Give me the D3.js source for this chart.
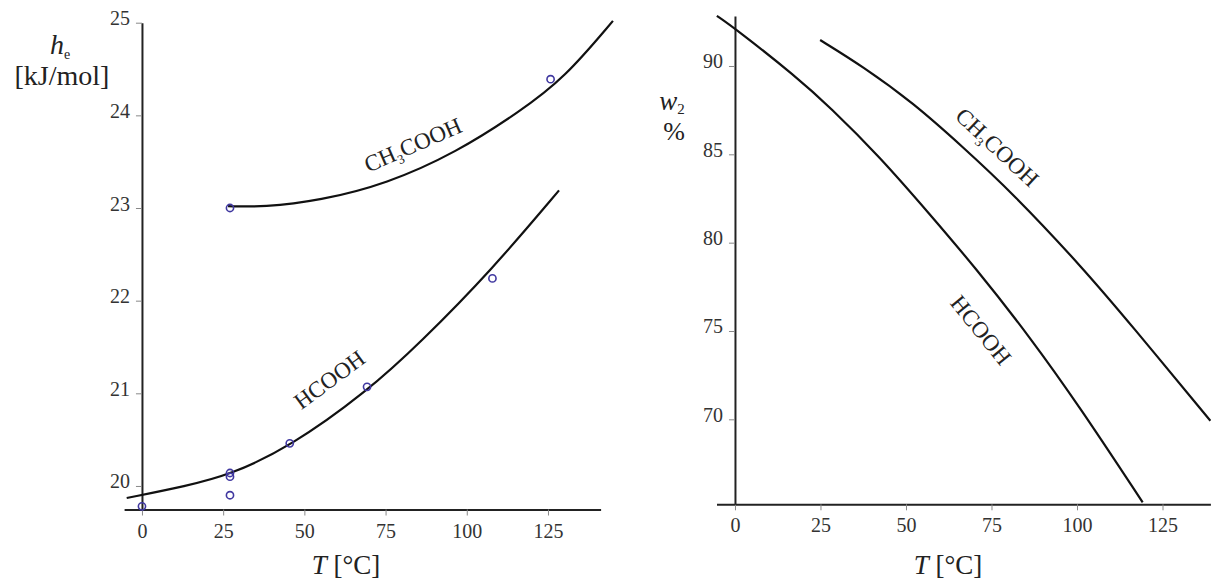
<!DOCTYPE html>
<html>
<head>
  <meta charset="UTF-8">
  <style>
body{ margin:0; background:#fff; }
svg{ display:block; }
text{ font-family:"Liberation Serif", "DejaVu Serif", serif; }
.tick line{ stroke:#888; }
.domain{ stroke:#222; stroke-width:2; }
.curve{ fill:none; stroke:#111; stroke-width:2.2; }
  </style>
</head>
<body>
<svg></svg>
<script src="https://d3js.org/d3.v7.min.js"></script>
<script>

let width = 1211, height = 581;
let serif = "Liberation Serif, DejaVu Serif, serif"

// ---- shared tick values ----
let xTicks = [0, 25, 50, 75, 100, 125]
let heTicks = [20, 21, 22, 23, 24, 25]
let w2Ticks = [70, 75, 80, 85, 90]

// ---- left panel: heat of evaporation h_e vs T ----
// measured points (T, h_e)
let hcoohPtsT = [0, 27.1, 27.1, 27.1, 45.5, 69.3, 107.9]
let hcoohPtsH = [19.78, 19.90, 20.10, 20.14, 20.46, 21.07, 22.24]
let aceticPtsT = [27.1, 125.8]
let aceticPtsH = [23.00, 24.39]

// fitted curves
let hcoohFitT = [-4.7, 13.75, 27.1, 45.5, 69.3, 85.5, 107.9, 128.4]
let hcoohFitH = [19.87, 20.00, 20.12, 20.42, 21.02, 21.54, 22.34, 23.19]
let aceticFitT = [26.5, 37.3, 54.8, 75.3, 96.8, 116.3, 130, 145]
let aceticFitH = [23.02, 23.01, 23.08, 23.26, 23.60, 24.04, 24.40, 25.02]

// ---- right panel: w2 vs T ----
let hcoohW2T = [-5.3, 0, 18, 27.7, 42.3, 57, 70, 86.2, 100.8, 119.2]
let hcoohW2 = [92.84, 92.13, 89.38, 87.68, 84.87, 81.6, 78.65, 74.67, 70.7, 65.3]
let aceticW2T = [24.9, 37.4, 52, 66.6, 81.2, 101.7, 115.4, 139]
let aceticW2 = [91.47, 89.97, 87.93, 85.42, 82.8, 78.57, 75.45, 69.92]

let svg = d3.select("svg")
    .attr("width", width)
    .attr("height", height)

let zip = (a, b) => a.map((v, i) => [v, b[i]])

// scales
let xL = d3.scaleLinear().domain([-5.5, 141.2]).range([124.1, 600.6])
let yL = d3.scaleLinear().domain([19.746, 25]).range([509.5, 22.7])
let xR = d3.scaleLinear().domain([-5.4, 139]).range([716.5, 1210.4])
let yR = d3.scaleLinear().domain([65.19, 92.83]).range([504.3, 16])

function axes(x, y, yTicks) {
    svg.append("g")
        .attr("transform", "translate(0," + y.range()[0] + ")")
        .call(d3.axisBottom(x).tickValues(xTicks).tickFormat(d3.format("d"))
            .tickSize(6).tickSizeOuter(0).tickPadding(8))
        .attr("font-family", serif).attr("font-size", 20)
        .call(g => g.selectAll(".tick text").attr("fill", "#333"))
    svg.append("g")
        .attr("transform", "translate(" + x(0) + ",0)")
        .call(d3.axisLeft(y).tickValues(yTicks).tickFormat(d3.format("d"))
            .tickSize(6).tickSizeOuter(0).tickPadding(6))
        .attr("font-family", serif).attr("font-size", 20)
        .call(g => g.selectAll(".tick text").attr("fill", "#333").attr("dy", "0.1em"))
}
axes(xL, yL, heTicks)
axes(xR, yR, w2Ticks)

function curve(x, y, xs, ys) {
    svg.append("path")
        .attr("class", "curve")
        .attr("d", d3.line().x(d => x(d[0])).y(d => y(d[1])).curve(d3.curveBasis)(zip(xs, ys)))
}
curve(xL, yL, hcoohFitT, hcoohFitH)
curve(xL, yL, aceticFitT, aceticFitH)
curve(xR, yR, hcoohW2T, hcoohW2)
curve(xR, yR, aceticW2T, aceticW2)

svg.append("g")
  .selectAll("circle")
  .data(zip(hcoohPtsT, hcoohPtsH).concat(zip(aceticPtsT, aceticPtsH)))
  .enter()
  .append("circle")
    .attr("cx", d => xL(d[0]))
    .attr("cy", d => yL(d[1]))
    .attr("r", 3.6)
    .attr("fill", "none")
    .attr("stroke", "#4038a0")
    .attr("stroke-width", 1.6)

// curve labels
function label(x, y, angle, parts) {
    let t = svg.append("text")
        .attr("font-size", 23)
        .attr("fill", "#222")
        .attr("text-anchor", "middle")
        .attr("transform", "translate(" + x + "," + y + ") rotate(" + angle + ")")
    parts.forEach(p => {
        let s = t.append("tspan").text(p[0])
        if (p[1] == "sub") s.attr("font-size", 13).attr("dy", 5)
        if (p[1] == "up") s.attr("dy", -5)
    })
}
label(416, 152, -23.5, [["CH"], ["3", "sub"], ["COOH", "up"]])
label(334, 386, -36.5, [["HCOOH"]])
label(992, 153, 43, [["CH"], ["3", "sub"], ["COOH", "up"]])
label(975, 335, 51, [["HCOOH"]])

// axis titles
let yt = svg.append("text").attr("x", 60).attr("y", 54).attr("font-size", 28).attr("fill", "#222").attr("text-anchor", "middle")
yt.append("tspan").text("h").attr("font-style", "italic")
yt.append("tspan").text("e").attr("font-size", 14).attr("dy", 5)
svg.append("text").attr("x", 62).attr("y", 85).attr("font-size", 28).attr("fill", "#222")
    .attr("text-anchor", "middle").text("[kJ/mol]")

let wt = svg.append("text").attr("x", 672).attr("y", 110).attr("font-size", 27).attr("fill", "#222").attr("text-anchor", "middle")
wt.append("tspan").text("w").attr("font-style", "italic")
wt.append("tspan").text("2").attr("font-size", 15).attr("dy", 4)
svg.append("text").attr("x", 674).attr("y", 140).attr("font-size", 26).attr("fill", "#222")
    .attr("text-anchor", "middle").text("%")

function tTitle(cx) {
    let t = svg.append("text").attr("x", cx).attr("y", 574).attr("font-size", 27).attr("fill", "#222").attr("text-anchor", "middle")
    t.append("tspan").text("T").attr("font-style", "italic")
    t.append("tspan").text(" [°C]")
}
tTitle(346)
tTitle(948)

</script>
</body>
</html>
